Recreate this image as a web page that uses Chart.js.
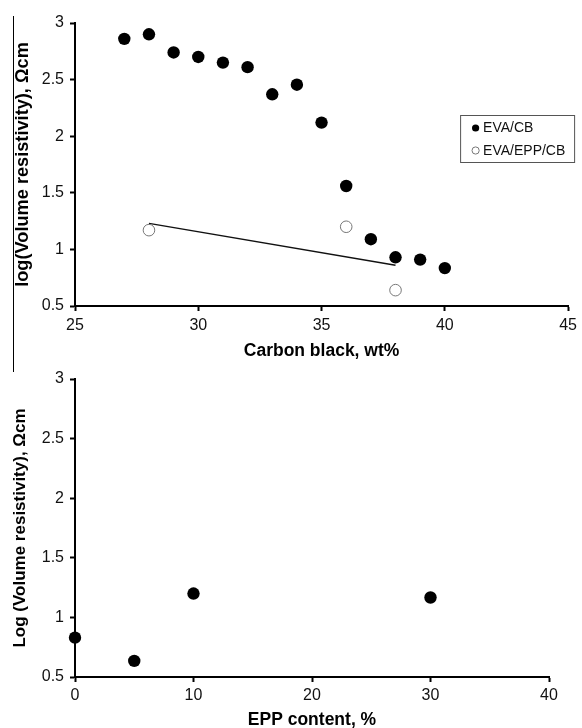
<!DOCTYPE html>
<html lang="en">
<head>
    <meta charset="UTF-8">
    <title>Volume resistivity</title>
    <script src="https://cdn.jsdelivr.net/npm/chart.js"></script>
    <style>
        body { margin: 0; background: #fff; width: 582px; height: 728px; position: relative; overflow: hidden; }
        .box { position: absolute; left: 0; width: 582px; }
        #topBox { top: 0; height: 362px; }
        #bottomBox { top: 362px; height: 366px; }
        #frameLine { position: absolute; left: 13px; top: 16px; width: 1px; height: 356px; background: #000; }
    </style>
    <script>
        // top chart: EVA/CB and EVA/EPP/CB vs carbon black
        const cbContent = [27, 28, 29, 30, 31, 32, 33, 34, 35, 36, 37, 38, 39, 40];
        const evaCbLogRho = [2.86, 2.90, 2.74, 2.70, 2.65, 2.61, 2.37, 2.455, 2.12, 1.56, 1.09, 0.93, 0.91, 0.835];
        const eppCbContent = [28, 36, 38];
        const evaEppCbLogRho = [1.17, 1.20, 0.64];
        const trendX = [28, 38];
        const trendY = [1.23, 0.86];
        const topXTicks = [25, 30, 35, 40, 45];

        // bottom chart: vs EPP content
        const eppContent = [0, 5, 10, 30];
        const eppLogRho = [0.83, 0.635, 1.20, 1.167];
        const bottomXTicks = [0, 10, 20, 30, 40];

        const yTicks = [0.5, 1, 1.5, 2, 2.5, 3];
    </script>
</head>
<body>
    <div id="frameLine"></div>
    <div class="box" id="topBox"><canvas id="topChart" width="582" height="362"></canvas></div>
    <div class="box" id="bottomBox"><canvas id="bottomChart" width="582" height="366"></canvas></div>

    <script>
        const FONT = '"Liberation Sans", Arial, sans-serif';
        Chart.defaults.font.family = FONT;
        Chart.defaults.color = '#111';

        const pts = (xs, ys) => xs.map((x, i) => ({ x: x, y: ys[i] }));

        // legend with a frame, placed inside the plot like the original
        const boxLegend = {
            id: 'boxLegend',
            afterDraw(chart, args, opts) {
                if (!opts.show) return;
                const { ctx, chartArea } = chart;
                const x = chartArea.right + opts.dx;
                const y = chartArea.top + opts.dy;
                ctx.save();
                ctx.strokeStyle = '#555';
                ctx.lineWidth = 1;
                ctx.strokeRect(x + 0.5, y + 0.5, opts.w, opts.h);
                ctx.font = '14px ' + FONT;
                ctx.textBaseline = 'middle';
                opts.items.forEach((idx, i) => {
                    const ds = chart.data.datasets[idx];
                    const cy = y + 13 + i * 22.5;
                    ctx.beginPath();
                    ctx.arc(x + 15.5, cy, 3.6, 0, Math.PI * 2);
                    ctx.fillStyle = ds.backgroundColor;
                    ctx.fill();
                    if (ds.borderWidth) {
                        ctx.strokeStyle = ds.borderColor;
                        ctx.lineWidth = 1;
                        ctx.stroke();
                    }
                    ctx.fillStyle = '#111';
                    ctx.fillText(ds.label, x + 23, cy + 0.5);
                });
                ctx.restore();
            }
        };

        function axes(xMin, xMax, xStep, xTitle, yTitle, yW, xH, titleSize, yTitlePad, xTitlePad, xTickPad) {
            const tickFont = { size: 16 };
            const titleFont = { size: titleSize, weight: 'bold' };
            return {
                x: {
                    type: 'linear', min: xMin, max: xMax,
                    ticks: { stepSize: xStep, font: tickFont, padding: xTickPad, color: '#111' },
                    grid: { drawOnChartArea: false, drawTicks: true, tickLength: 5, tickWidth: 2, color: '#000' },
                    border: { color: '#000', width: 2 },
                    title: { display: true, text: xTitle, font: { size: 17.5, weight: 'bold' }, color: '#000', padding: { top: 0, bottom: xTitlePad } },
                    afterFit: s => { s.height = xH; }
                },
                y: {
                    type: 'linear', min: 0.5, max: 3,
                    afterBuildTicks: s => { s.ticks = yTicks.map(v => ({ value: v })); },
                    ticks: { font: tickFont, padding: 6, color: '#111', callback: v => String(v) },
                    grid: { drawOnChartArea: false, drawTicks: true, tickLength: 5, tickWidth: 2, color: '#000' },
                    border: { color: '#000', width: 2 },
                    title: { display: true, text: yTitle, font: titleFont, color: '#000', padding: { top: yTitlePad, bottom: 0 } },
                    afterFit: s => { s.width = yW; }
                }
            };
        }

        new Chart(document.getElementById('topChart'), {
            type: 'scatter',
            data: {
                datasets: [
                    {
                        label: 'EVA/CB',
                        data: pts(cbContent, evaCbLogRho),
                        backgroundColor: '#000',
                        borderWidth: 0,
                        pointRadius: 6.2,
                        clip: false
                    },
                    {
                        label: 'EVA/EPP/CB',
                        data: pts(eppCbContent, evaEppCbLogRho),
                        backgroundColor: '#fff',
                        borderColor: '#777',
                        borderWidth: 1,
                        pointRadius: 5.8,
                        clip: false
                    },
                    {
                        type: 'line',
                        label: 'trend',
                        data: pts(trendX, trendY),
                        borderColor: '#111',
                        borderWidth: 1.3,
                        pointRadius: 0,
                        fill: false,
                        order: 5
                    }
                ]
            },
            options: {
                responsive: false,
                animation: false,
                events: [],
                layout: { padding: { top: 23, right: 11, bottom: 0, left: 0 } },
                scales: axes(topXTicks[0], topXTicks[topXTicks.length - 1], 5,
                    'Carbon black, wt%', 'log(Volume resistivity), \u03A9cm', 75, 56, 18.2, 12, 0.5, 5),
                plugins: {
                    legend: { display: false },
                    tooltip: { enabled: false },
                    boxLegend: { show: true, dx: -108, dy: 92, w: 114, h: 47, items: [0, 1] }
                }
            },
            plugins: [boxLegend]
        });

        new Chart(document.getElementById('bottomChart'), {
            type: 'scatter',
            data: {
                datasets: [
                    {
                        label: 'EVA/EPP/CB',
                        data: pts(eppContent, eppLogRho),
                        backgroundColor: '#000',
                        borderWidth: 0,
                        pointRadius: 6.2,
                        clip: false
                    }
                ]
            },
            options: {
                responsive: false,
                animation: false,
                events: [],
                layout: { padding: { top: 17, right: 33, bottom: 0, left: 0 } },
                scales: axes(bottomXTicks[0], bottomXTicks[bottomXTicks.length - 1], 10,
                    'EPP content, %', 'Log (Volume resistivity), \u03A9cm', 75, 51, 17, 10, -3, 4),
                plugins: {
                    legend: { display: false },
                    tooltip: { enabled: false },
                    boxLegend: { show: false }
                }
            },
            plugins: [boxLegend]
        });
    </script>
</body>
</html>
